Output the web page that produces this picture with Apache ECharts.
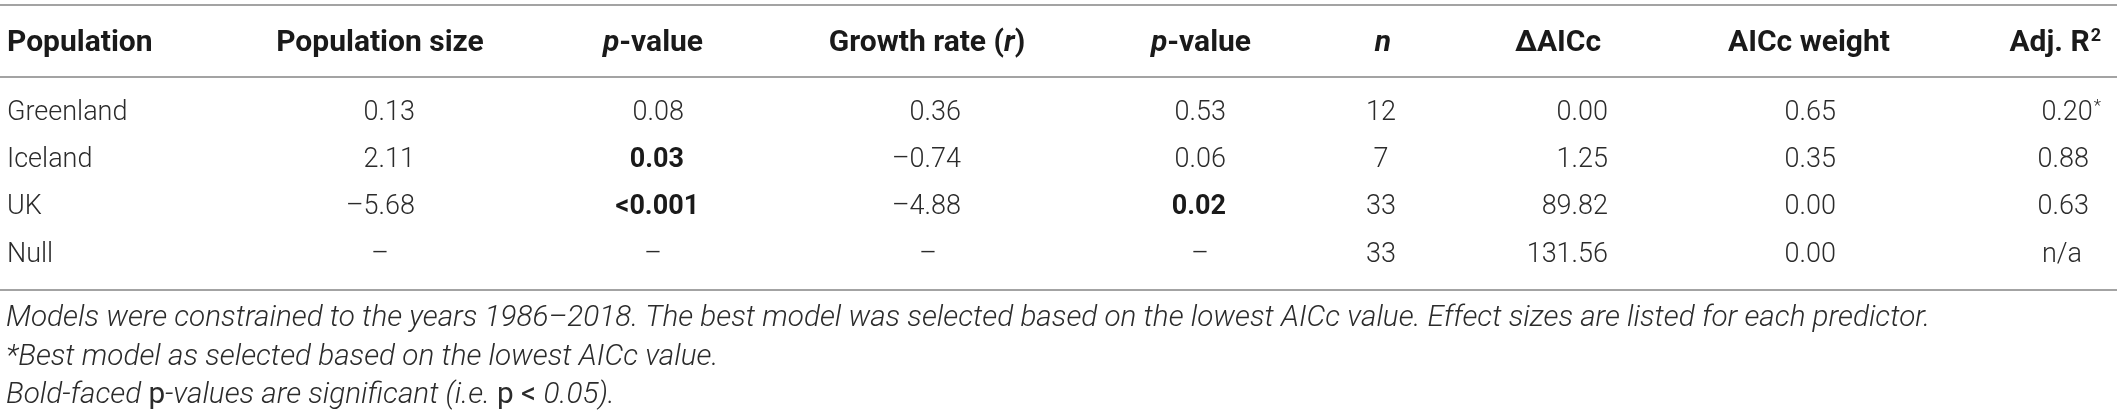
<!DOCTYPE html>
<html>
<head>
<meta charset="utf-8">
<script src="https://cdn.jsdelivr.net/npm/echarts@6/dist/echarts.min.js"></script>
<style>
html,body{margin:0;padding:0;background:#fff;}
#chart{width:2117px;height:413px;}
</style>
</head>
<body>
<div id="chart"></div>
<script>
// ---------------- data ----------------
const headers = ['Population', 'Population size', '{i|p}-value', 'Growth rate ({i|r})', '{i|p}-value', '{i|n}', '\u0394AICc', 'AICc weight', 'Adj. R{sup|2}'];
const populations = ['Greenland', 'Iceland', 'UK', 'Null'];
const popSize = [0.13, 2.11, -5.68, null];
const popSizeP = [0.08, 0.03, '<0.001', null];
const growthRate = [0.36, -0.74, -4.88, null];
const growthRateP = [0.53, 0.06, 0.02, null];
const nObs = [12, 7, 33, 33];
const deltaAICc = [0.00, 1.25, 89.82, 131.56];
const aiccWeight = [0.65, 0.35, 0.00, 0.00];
const adjR2 = [0.20, 0.88, 0.63, 'n/a'];
const notes = [
  'Models were constrained to the years 1986\u20132018. The best model was selected based on the lowest AICc value. Effect sizes are listed for each predictor.',
  '*Best model as selected based on the lowest AICc value.',
  '{it|Bold-faced }{up|p}{it|-values are significant (i.e. }{up|p < }{it|0.05).}'
];

// ---------------- layout ----------------
const headX = [7, 380, 653, 927, 1201, 1383, 1558, 1809, 2101];
const headAlign = ['left', 'center', 'center', 'center', 'center', 'center', 'center', 'center', 'right'];
const numRight = [7, 415, 684, 961, 1226, 1381, 1608, 1836, 2089];
const cellCenter = [7, 380, 653, 928, 1200, 1381, 1558, 1809, 2062];
const DATA_FS = 27, HEAD_FS = 30, NOTE_FS = 29.7;
const FONT = 'Roboto';
const DIGIT_W = 0.562 * DATA_FS;

const columns = [populations, popSize, popSizeP, growthRate, growthRateP, nObs, deltaAICc, aiccWeight, adjR2];
const pCols = [2, 4];

function fmt(v) {
  if (v === null || v === undefined) return '\u2013';
  if (typeof v === 'string') return v;
  const s = Math.abs(v).toFixed(2);
  return (v < 0 ? '\u2013' : '') + s;
}
function isSig(v) {
  if (typeof v === 'number') return v < 0.05;
  if (typeof v === 'string' && v.charAt(0) === '<') return parseFloat(v.slice(1)) < 0.05;
  return false;
}
const bestIdx = deltaAICc.indexOf(Math.min.apply(null, deltaAICc));

const headCells = headers.map((h, c) => ({x: headX[c], y: 0, text: h, align: headAlign[c], bold: true}));

const bodyCells = [];
columns.forEach((col, c) => {
  col.forEach((v, r) => {
    let text, align, x, bold = false;
    if (c === 0) { text = v; align = 'left'; x = numRight[0]; }
    else if (c === 5) { text = String(v); align = 'center'; x = cellCenter[c]; }
    else if (v === null || v === 'n/a') { text = fmt(v); align = 'center'; x = cellCenter[c]; }
    else {
      text = fmt(v); align = 'right'; x = numRight[c];
      if (typeof v === 'string') {
        const dec = (v.split('.')[1] || '').length;
        x += (dec - 2) * DIGIT_W;
      }
      if (pCols.indexOf(c) >= 0 && isSig(v)) bold = true;
      if (c === 8 && r === bestIdx) { text = text + '{s|*}'; x += 12; }
    }
    bodyCells.push({x: x, y: r, text: text, align: align, bold: bold});
  });
});

function richStyles(baseWeight, fs) {
  return {
    i: {fontFamily: FONT, fontSize: fs, fontWeight: baseWeight, fontStyle: 'italic', fill: '#1a1a1a'},
    sup: {fontFamily: FONT, fontSize: 18, fontWeight: baseWeight, fill: '#1a1a1a', padding: [0, 0, 14, 1]},
    s: {fontFamily: FONT, fontSize: 17, fontWeight: 300, fill: '#2b2b2b', padding: [0, 0, 12, 1]}
  };
}

function makeRender(cells, head) {
  return function (params, api) {
    const cell = cells[api.value(2)];
    const p = api.coord([api.value(0), api.value(1)]);
    const weight = head ? 700 : (cell.bold ? 700 : 300);
    const fs = head ? HEAD_FS : DATA_FS;
    return {
      type: 'text',
      x: p[0], y: p[1],
      style: {
        text: cell.text,
        fontFamily: FONT,
        fontSize: fs,
        fontWeight: weight,
        fill: head ? '#1a1a1a' : (cell.bold ? '#1a1a1a' : '#2b2b2b'),
        align: cell.align,
        verticalAlign: 'middle',
        rich: richStyles(weight, fs)
      }
    };
  };
}

const ruleLine = {show: true, onZero: false, lineStyle: {color: '#a3a3a3', width: 2}};
const hiddenAxisParts = {axisTick: {show: false}, axisLabel: {show: false}, splitLine: {show: false}};

const chart = echarts.init(document.getElementById('chart'));
chart.setOption({
  animation: false,
  backgroundColor: '#fff',
  title: notes.map((t, k) => ({
    text: t,
    left: 6,
    top: [301, 340, 378][k],
    padding: 0,
    textStyle: {
      fontFamily: FONT, fontSize: NOTE_FS, fontWeight: 300, fontStyle: 'italic', color: '#2b2b2b', lineHeight: 36,
      rich: {
        it: {fontFamily: FONT, fontSize: NOTE_FS, fontWeight: 300, fontStyle: 'italic', color: '#2b2b2b'},
        up: {fontFamily: FONT, fontSize: NOTE_FS, fontWeight: 400, fontStyle: 'normal', color: '#2b2b2b'}
      }
    }
  })),
  grid: [
    {left: 0, right: 0, top: 5, height: 72},
    {left: 0, right: 0, top: 77, height: 213}
  ],
  xAxis: [
    Object.assign({type: 'value', gridIndex: 0, min: 0, max: 2117, position: 'top', axisLine: ruleLine}, hiddenAxisParts),
    Object.assign({type: 'value', gridIndex: 0, min: 0, max: 2117, position: 'bottom', axisLine: ruleLine}, hiddenAxisParts),
    Object.assign({type: 'value', gridIndex: 1, min: 0, max: 2117, position: 'bottom', axisLine: ruleLine}, hiddenAxisParts)
  ],
  yAxis: [
    Object.assign({type: 'value', gridIndex: 0, inverse: true, min: -0.53, max: 0.47, axisLine: {show: false}}, hiddenAxisParts),
    Object.assign({type: 'value', gridIndex: 1, inverse: true, min: -0.76, max: 3.74, axisLine: {show: false}}, hiddenAxisParts)
  ],
  series: [
    {
      type: 'custom', xAxisIndex: 0, yAxisIndex: 0, silent: true,
      renderItem: makeRender(headCells, true),
      data: headCells.map((c, k) => [c.x, c.y, k])
    },
    {
      type: 'custom', xAxisIndex: 2, yAxisIndex: 1, silent: true,
      renderItem: makeRender(bodyCells, false),
      data: bodyCells.map((c, k) => [c.x, c.y, k])
    }
  ]
});
</script>
</body>
</html>
